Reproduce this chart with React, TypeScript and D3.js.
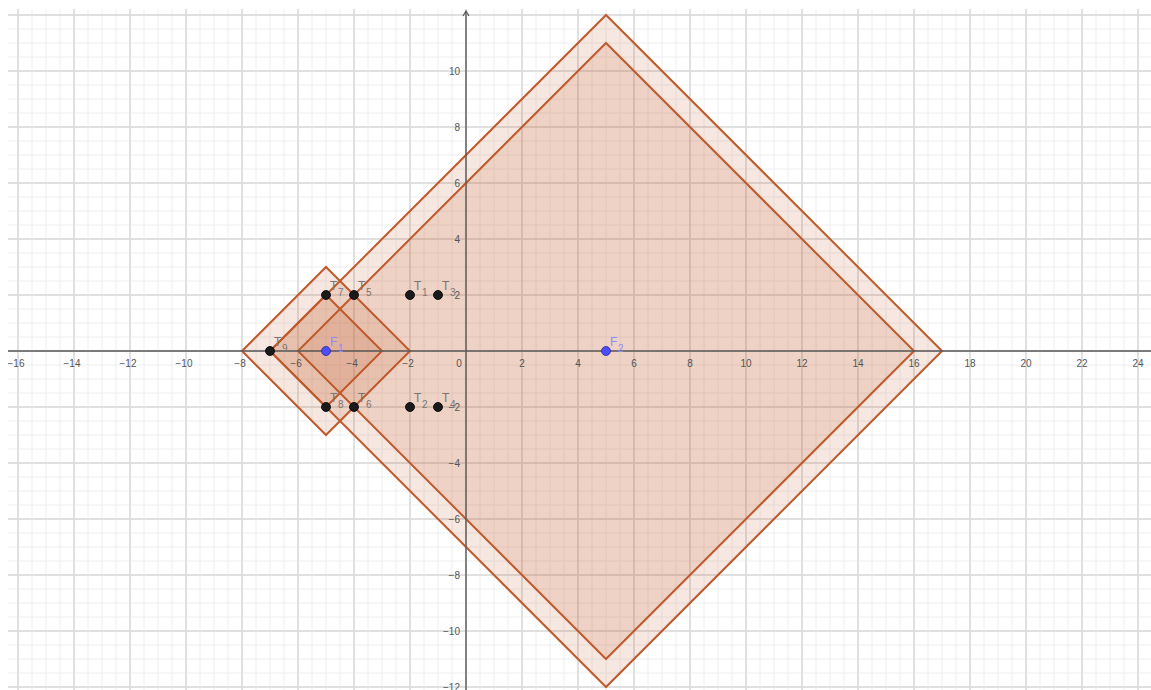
import React from "react";
import * as d3 from "d3";

const WIDTH = 1151;
const HEIGHT = 690;
const ORIGIN_X = 466;
const ORIGIN_Y = 351;
const UNIT = 28;

// diamonds: centre x, centre y, half-diagonal
const diamondCx = [5, 5, -5, -5];
const diamondCy = [0, 0, 0, 0];
const diamondR = [12, 11, 3, 2];

// points
const pointNames = ["T", "T", "T", "T", "T", "T", "T", "T", "T", "F", "F"];
const pointIdx = ["1", "2", "3", "4", "5", "6", "7", "8", "9", "1", "2"];
const pointX = [-2, -2, -1, -1, -4, -4, -5, -5, -7, -5, 5];
const pointY = [2, -2, 2, -2, 2, -2, 2, -2, 0, 0, 0];

const xTicks = [-16, -14, -12, -10, -8, -6, -4, -2, 2, 4, 6, 8, 10, 12, 14, 16, 18, 20, 22, 24];
const yTicks = [10, 8, 6, 4, 2, -2, -4, -6, -8, -10, -12];

const STROKE = "#bf5a2c";
const FILL = "#c0602e";

export default function App() {
  const x = d3
    .scaleLinear()
    .domain([(0 - ORIGIN_X) / UNIT, (WIDTH - ORIGIN_X) / UNIT])
    .range([0, WIDTH]);
  const y = d3
    .scaleLinear()
    .domain([(ORIGIN_Y - HEIGHT) / UNIT, ORIGIN_Y / UNIT])
    .range([HEIGHT, 0]);

  const [x0, x1] = x.domain();
  const [y0, y1] = y.domain();
  const minorX = d3.range(Math.ceil(x0 * 2) / 2, x1, 0.5);
  const minorY = d3.range(Math.ceil(y0 * 2) / 2, y1, 0.5);
  const majorX = minorX.filter((v) => v % 2 === 0);
  const majorY = minorY.filter((v) => v % 2 === 0);

  const line = d3
    .line<[number, number]>()
    .x((d) => x(d[0]))
    .y((d) => y(d[1]));

  const plotLeft = 8;
  const plotTop = 9;

  return (
    <svg
      width={WIDTH}
      height={HEIGHT}
      style={{ position: "absolute", left: 0, top: 0, background: "#fff" }}
      fontFamily="'Liberation Sans', Arial, sans-serif"
    >
      <defs>
        <clipPath id="plot">
          <rect x={plotLeft} y={plotTop} width={WIDTH - plotLeft} height={HEIGHT - plotTop} />
        </clipPath>
      </defs>
      <g clipPath="url(#plot)">
        {/* minor grid */}
        {minorX.map((v) => (
          <line key={"mx" + v} x1={x(v)} x2={x(v)} y1={0} y2={HEIGHT} stroke="#eeeeee" strokeWidth={1} />
        ))}
        {minorY.map((v) => (
          <line key={"my" + v} x1={0} x2={WIDTH} y1={y(v)} y2={y(v)} stroke="#eeeeee" strokeWidth={1} />
        ))}
        {/* major grid */}
        {majorX.map((v) => (
          <line key={"Mx" + v} x1={x(v)} x2={x(v)} y1={0} y2={HEIGHT} stroke="#d9d9d9" strokeWidth={1.5} />
        ))}
        {majorY.map((v) => (
          <line key={"My" + v} x1={0} x2={WIDTH} y1={y(v)} y2={y(v)} stroke="#d9d9d9" strokeWidth={1.5} />
        ))}

        {/* diamonds */}
        {diamondR.map((r, i) => {
          const cx = diamondCx[i];
          const cy = diamondCy[i];
          const pts: [number, number][] = [
            [cx - r, cy],
            [cx, cy + r],
            [cx + r, cy],
            [cx, cy - r],
            [cx - r, cy],
          ];
          return (
            <path
              key={"d" + i}
              d={line(pts) + "Z"}
              fill={FILL}
              fillOpacity={0.15}
              stroke={STROKE}
              strokeWidth={2}
              strokeLinejoin="miter"
            />
          );
        })}

        {/* axes */}
        <line x1={0} x2={WIDTH} y1={y(0)} y2={y(0)} stroke="#5a5a5a" strokeWidth={1.4} />
        <line x1={x(0)} x2={x(0)} y1={plotTop + 2} y2={HEIGHT} stroke="#5a5a5a" strokeWidth={1.4} />
        <path
          d={`M${x(0) - 3},${plotTop + 7} L${x(0)},${plotTop + 2} L${x(0) + 3},${plotTop + 7}`}
          fill="none"
          stroke="#5a5a5a"
          strokeWidth={1.2}
        />

        {/* tick labels */}
        {xTicks.map((v) => (
          <text
            key={"xt" + v}
            x={x(v) + (v < 0 ? -2 : 0)}
            y={y(0) + 16}
            textAnchor="middle"
            fontSize={10}
            fill="#555"
          >
            {v < 0 ? "\u2212" + Math.abs(v) : v}
          </text>
        ))}
        <text x={x(0) - 7} y={y(0) + 16} textAnchor="middle" fontSize={10} fill="#555">
          0
        </text>
        {yTicks.map((v) => (
          <text
            key={"yt" + v}
            x={x(0) - 6}
            y={y(v) + 4}
            textAnchor="end"
            fontSize={10}
            fill="#555"
          >
            {v < 0 ? "\u2212" + Math.abs(v) : v}
          </text>
        ))}

        {/* points */}
        {pointX.map((px, i) => {
          const isF = pointNames[i] === "F";
          const cx = x(px);
          const cy = y(pointY[i]);
          const col = isF ? "#8c8cff" : "#777";
          return (
            <g key={"p" + i}>
              <circle
                cx={cx}
                cy={cy}
                r={4.5}
                fill={isF ? "#4d4dff" : "#1a1a1a"}
                stroke={isF ? "#2a2a99" : "#000"}
                strokeWidth={0.8}
              />
              <text x={cx + 4} y={cy - 5} fontSize={12} fill={col}>
                {pointNames[i]}
              </text>
              <text x={cx + 12} y={cy + 1} fontSize={10} fill={col}>
                {pointIdx[i]}
              </text>
            </g>
          );
        })}
      </g>
    </svg>
  );
}
